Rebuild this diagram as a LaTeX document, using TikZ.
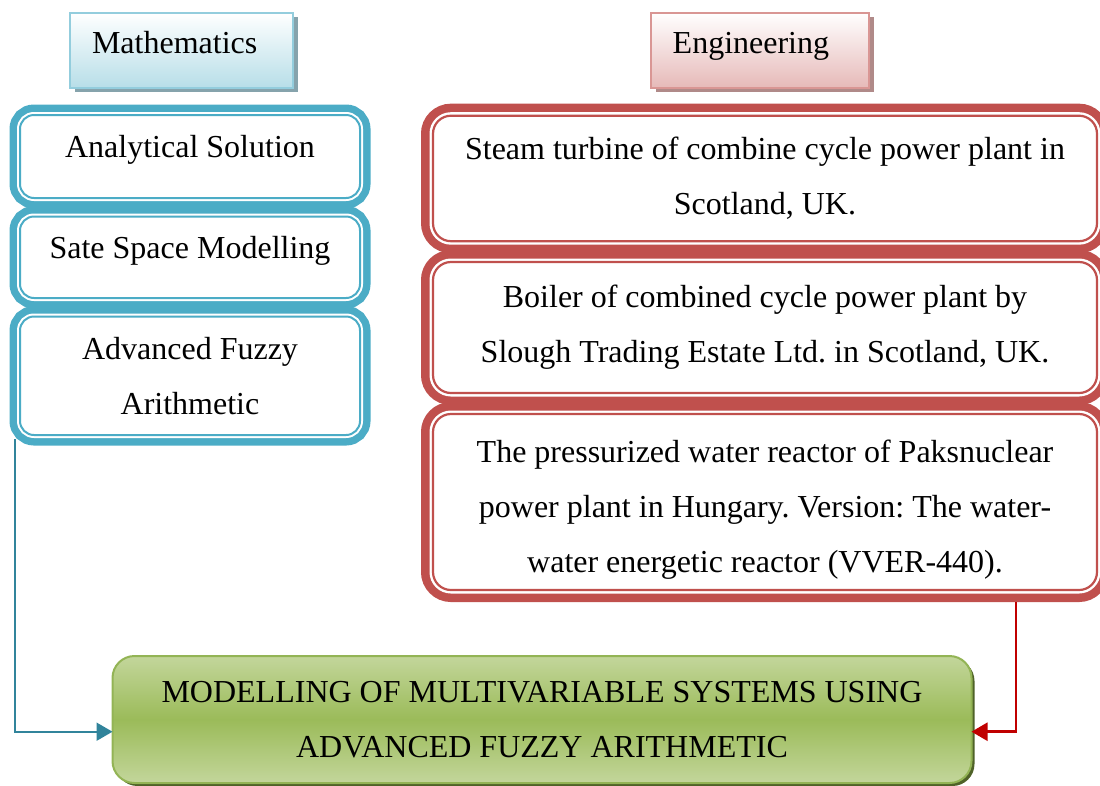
\documentclass[tikz,border=0pt]{standalone}
\usepackage{fontspec}
\setmainfont{Liberation Serif}
\usetikzlibrary{arrows.meta, shadows}
\frenchspacing
\definecolor{mathframe}{HTML}{4BACC6}
\definecolor{engframe}{HTML}{C0504D}
\definecolor{mathedge}{HTML}{93CDDD}
\definecolor{mathfill}{HTML}{B7DEE8}
\definecolor{mathshade}{HTML}{86A3AC}
\definecolor{engedge}{HTML}{D99694}
\definecolor{engfill}{HTML}{E6B9B8}
\definecolor{engshade}{HTML}{B08A89}
\definecolor{reslight}{HTML}{C3D69B}
\definecolor{resmid}{HTML}{9BBB59}
\definecolor{resedge}{HTML}{93B455}
\definecolor{resshade}{HTML}{4F6228}
\definecolor{matharrow}{HTML}{31849B}
\definecolor{engarrow}{HTML}{C00000}
\tikzset{>={Triangle[length=16pt, width=18pt]}}
\tikzset{
  % header labels
  head/.style={anchor=north west, line width=2pt, inner xsep=22pt, inner ysep=0pt,
    outer sep=0pt, align=left, text height=40.6pt, text depth=34.7pt},
  mathhead/.style={head, draw=mathedge, top color=white, bottom color=mathfill,
    drop shadow={shadow xshift=5pt, shadow yshift=-4pt, fill=mathshade, opacity=1}},
  enghead/.style={head, draw=engedge, top color=white, bottom color=engfill,
    drop shadow={shadow xshift=5pt, shadow yshift=-4pt, fill=engshade, opacity=1}},
  % framed boxes with a thick band, a white gap and a thin line
  mathbox/.style={anchor=north west, draw=mathframe, fill=white, line width=2pt,
    rounded corners=14pt, outer sep=0pt, inner sep=0pt, align=center,
    minimum width=340pt,
    preaction={draw=mathframe, line width=21pt},
    preaction={draw=white, line width=6pt}},
  engbox/.style={anchor=north west, draw=engframe, fill=white, line width=2.2pt,
    rounded corners=18pt, outer sep=0pt, inner sep=0pt, align=center,
    minimum width=664pt,
    preaction={draw=engframe, line width=24pt},
    preaction={draw=white, line width=7pt}},
  oneline/.style={text height=22pt, text depth=20pt},
  resbox/.style={draw=resedge, line width=2pt, rounded corners=22pt, align=center,
    outer sep=0pt, minimum width=859pt, minimum height=127pt,
    top color=reslight, bottom color=reslight, middle color=resmid,
    drop shadow={shadow xshift=3pt, shadow yshift=-3pt, fill=resshade, opacity=1}},
  mathline/.style={draw=matharrow, line width=2pt, ->},
  engline/.style={draw=engarrow, line width=2.5pt, ->},
}
\begin{document}
\begin{tikzpicture}[x=1pt, y=-1pt, font=\fontsize{32}{55}\selectfont]
  \useasboundingbox (0,0) rectangle (1100,785);

  \node[mathhead, text width=179pt] (math) at (70,12.7) {Mathematics};
  \node[enghead, text width=174.3pt] (eng) at (650.7,12.7) {Engineering};

  % mathematics side
  \node[mathbox, oneline, minimum height=83pt] (ana) at (20,115) {Analytical Solution};
  \node[mathbox, oneline, minimum height=81.5pt] (ssm) at (20,216.5) {Sate Space Modelling};
  \node[mathbox, minimum height=118.5pt] (afa) at (20,316.5) {Advanced Fuzzy\\Arithmetic};

  % engineering side
  \node[engbox, minimum height=125.5pt] (turb) at (433,115.7)
    {Steam turbine of combine cycle power plant in\\Scotland, UK.};
  \node[engbox, minimum height=131pt] (boil) at (433,262)
    {Boiler of combined cycle power plant by\\Slough Trading Estate Ltd. in Scotland, UK.};
  \node[engbox, minimum height=176pt] (pwr) at (433,414)
    {\rule{0pt}{37pt}The pressurized water reactor of Paksnuclear\\
     power plant in Hungary. Version: The water-\\
     water energetic reactor (VVER-440).};

  \node[resbox] (res) at (542,719.5)
    {MODELLING OF MULTIVARIABLE SYSTEMS USING\\ADVANCED FUZZY ARITHMETIC};

  \draw[mathline] ([xshift=-5pt, yshift=-4pt]afa.south west) |- ([yshift=-12.2pt]res.west);
  \draw[engline] ([xshift=-81pt, yshift=-12pt]pwr.south east) |- ([yshift=-12.2pt]res.east);
\end{tikzpicture}
\end{document}
